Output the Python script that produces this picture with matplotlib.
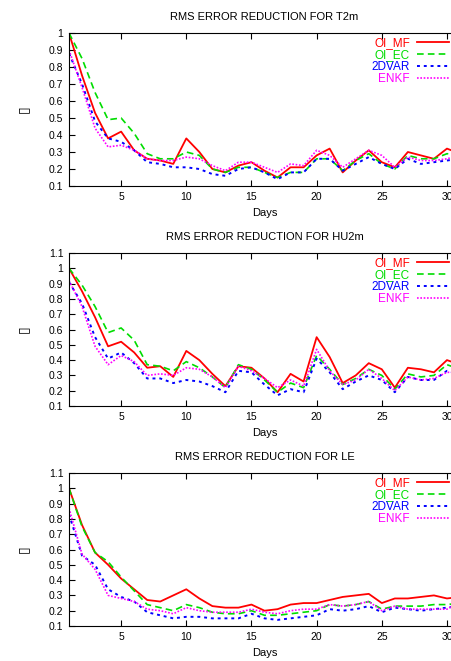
from matplotlib import pyplot as plt
import numpy

plt.rcParams['font.family'] = ['Liberation Sans', 'DejaVu Sans']

days = numpy.arange(1, 32)

# T2m
t2m_oi_mf = [1.0, 0.75, 0.53, 0.38, 0.42, 0.31, 0.26, 0.25, 0.23, 0.38, 0.30, 0.20, 0.18, 0.22, 0.24, 0.19,
             0.15, 0.21, 0.21, 0.28, 0.32, 0.18, 0.25, 0.31, 0.24, 0.21, 0.30, 0.28, 0.26, 0.32, 0.29]
t2m_oi_ec = [1.0, 0.85, 0.65, 0.49, 0.50, 0.41, 0.29, 0.26, 0.26, 0.30, 0.28, 0.20, 0.18, 0.21, 0.21, 0.18,
             0.15, 0.18, 0.18, 0.26, 0.26, 0.19, 0.25, 0.29, 0.23, 0.20, 0.28, 0.26, 0.26, 0.29, 0.28]
t2m_2dvar = [0.88, 0.70, 0.48, 0.38, 0.36, 0.31, 0.24, 0.23, 0.21, 0.21, 0.20, 0.17, 0.16, 0.20, 0.21, 0.18,
             0.14, 0.18, 0.18, 0.26, 0.26, 0.19, 0.23, 0.27, 0.23, 0.20, 0.26, 0.23, 0.24, 0.25, 0.26]
t2m_enkf = [0.90, 0.68, 0.44, 0.33, 0.34, 0.31, 0.26, 0.25, 0.25, 0.27, 0.26, 0.22, 0.19, 0.24, 0.24, 0.21,
            0.18, 0.23, 0.22, 0.31, 0.28, 0.21, 0.26, 0.31, 0.28, 0.21, 0.27, 0.25, 0.25, 0.26, 0.28]

# HU2m
hu2m_oi_mf = [1.0, 0.85, 0.68, 0.49, 0.52, 0.45, 0.35, 0.36, 0.29, 0.46, 0.40, 0.31, 0.23, 0.36, 0.35, 0.28,
              0.19, 0.31, 0.26, 0.55, 0.42, 0.25, 0.30, 0.38, 0.34, 0.22, 0.35, 0.34, 0.32, 0.40, 0.37]
hu2m_oi_ec = [1.0, 0.89, 0.75, 0.58, 0.61, 0.53, 0.37, 0.36, 0.33, 0.39, 0.35, 0.29, 0.22, 0.37, 0.34, 0.27,
              0.19, 0.25, 0.22, 0.43, 0.34, 0.24, 0.28, 0.34, 0.30, 0.21, 0.31, 0.29, 0.30, 0.37, 0.34]
hu2m_2dvar = [0.91, 0.77, 0.55, 0.41, 0.45, 0.38, 0.28, 0.28, 0.25, 0.27, 0.26, 0.23, 0.19, 0.33, 0.32, 0.24,
              0.17, 0.21, 0.19, 0.41, 0.32, 0.21, 0.26, 0.30, 0.27, 0.19, 0.29, 0.27, 0.27, 0.33, 0.31]
hu2m_enkf = [0.92, 0.75, 0.49, 0.37, 0.43, 0.39, 0.30, 0.31, 0.30, 0.35, 0.34, 0.29, 0.22, 0.36, 0.33, 0.28,
             0.22, 0.27, 0.23, 0.47, 0.33, 0.24, 0.27, 0.34, 0.28, 0.20, 0.29, 0.27, 0.28, 0.32, 0.32]

# LE
le_oi_mf = [1.0, 0.76, 0.58, 0.50, 0.41, 0.34, 0.27, 0.26, 0.30, 0.34, 0.28, 0.23, 0.22, 0.22, 0.24, 0.20,
            0.21, 0.24, 0.25, 0.25, 0.27, 0.29, 0.30, 0.31, 0.25, 0.28, 0.28, 0.29, 0.30, 0.28, 0.29]
le_oi_ec = [1.0, 0.75, 0.58, 0.52, 0.42, 0.33, 0.24, 0.22, 0.20, 0.24, 0.22, 0.19, 0.18, 0.18, 0.20, 0.17,
            0.17, 0.18, 0.19, 0.20, 0.24, 0.23, 0.24, 0.26, 0.21, 0.23, 0.23, 0.23, 0.24, 0.24, 0.25]
le_2dvar = [0.83, 0.56, 0.50, 0.34, 0.29, 0.26, 0.19, 0.17, 0.15, 0.16, 0.16, 0.15, 0.15, 0.15, 0.18, 0.15,
            0.14, 0.15, 0.16, 0.17, 0.21, 0.20, 0.21, 0.23, 0.19, 0.22, 0.21, 0.20, 0.21, 0.22, 0.23]
le_enkf = [0.87, 0.57, 0.47, 0.30, 0.28, 0.26, 0.21, 0.20, 0.18, 0.22, 0.20, 0.19, 0.19, 0.19, 0.21, 0.19,
           0.18, 0.20, 0.21, 0.21, 0.24, 0.23, 0.24, 0.26, 0.20, 0.23, 0.21, 0.21, 0.21, 0.21, 0.26]

names = ['OI_MF', 'OI_EC', '2DVAR', 'ENKF']
colors = ['#ff0000', '#00dd00', '#0000ff', '#ff00ff']
styles = ['-', (0, (4, 2.5)), (0, (1.5, 2)), (0, (1, 1))]
widths = [1.3, 1.2, 1.4, 1.2]

panels = [
    ('RMS ERROR REDUCTION FOR T2m', [t2m_oi_mf, t2m_oi_ec, t2m_2dvar, t2m_enkf], 1.0, 33),
    ('RMS ERROR REDUCTION FOR HU2m', [hu2m_oi_mf, hu2m_oi_ec, hu2m_2dvar, hu2m_enkf], 1.1, 253),
    ('RMS ERROR REDUCTION FOR LE', [le_oi_mf, le_oi_ec, le_2dvar, le_enkf], 1.1, 473),
]

W, H = 452, 661
fig = plt.figure(figsize=(W / 100, H / 100), dpi=100)

for title, series, ytop, top_px in panels:
    bot_px = top_px + 153
    ax = fig.add_axes([69 / W, 1 - bot_px / H, 391 / W, 153 / H])
    for vals, name, c, ls, lw in zip(series, names, colors, styles, widths):
        ax.plot(days, vals, color=c, linestyle=ls, linewidth=lw, label=name)
    ax.set_xlim(1, 31)
    ax.set_ylim(0.1, ytop)
    ax.set_xticks([5, 10, 15, 20, 25, 30])
    yt = numpy.round(numpy.arange(0.1, ytop + 0.01, 0.1), 1)
    ax.set_yticks(yt)
    ax.set_yticklabels(['1' if v == 1.0 else '%g' % v for v in yt])
    ax.tick_params(direction='in', length=4, labelsize=7.5, top=True, right=False, pad=4)
    ax.set_title(title, fontsize=8, pad=9)
    ax.set_xlabel('Days', fontsize=8, labelpad=5)
    ax.set_ylabel('\u25af', fontsize=10, rotation=90, ha='center', va='center', family=['DejaVu Sans'])
    ax.yaxis.set_label_coords(-46.5 / 391, 0.5)
    leg = ax.legend(loc='upper right', bbox_to_anchor=(449 / W, 1 - (top_px + 4.5) / H),
                    bbox_transform=fig.transFigure, frameon=False, markerfirst=False,
                    labelcolor='linecolor', fontsize=8.5, handlelength=2.75,
                    labelspacing=-0.02, borderpad=0, handletextpad=0.55, borderaxespad=0)

plt.savefig('out.png', dpi=100)
